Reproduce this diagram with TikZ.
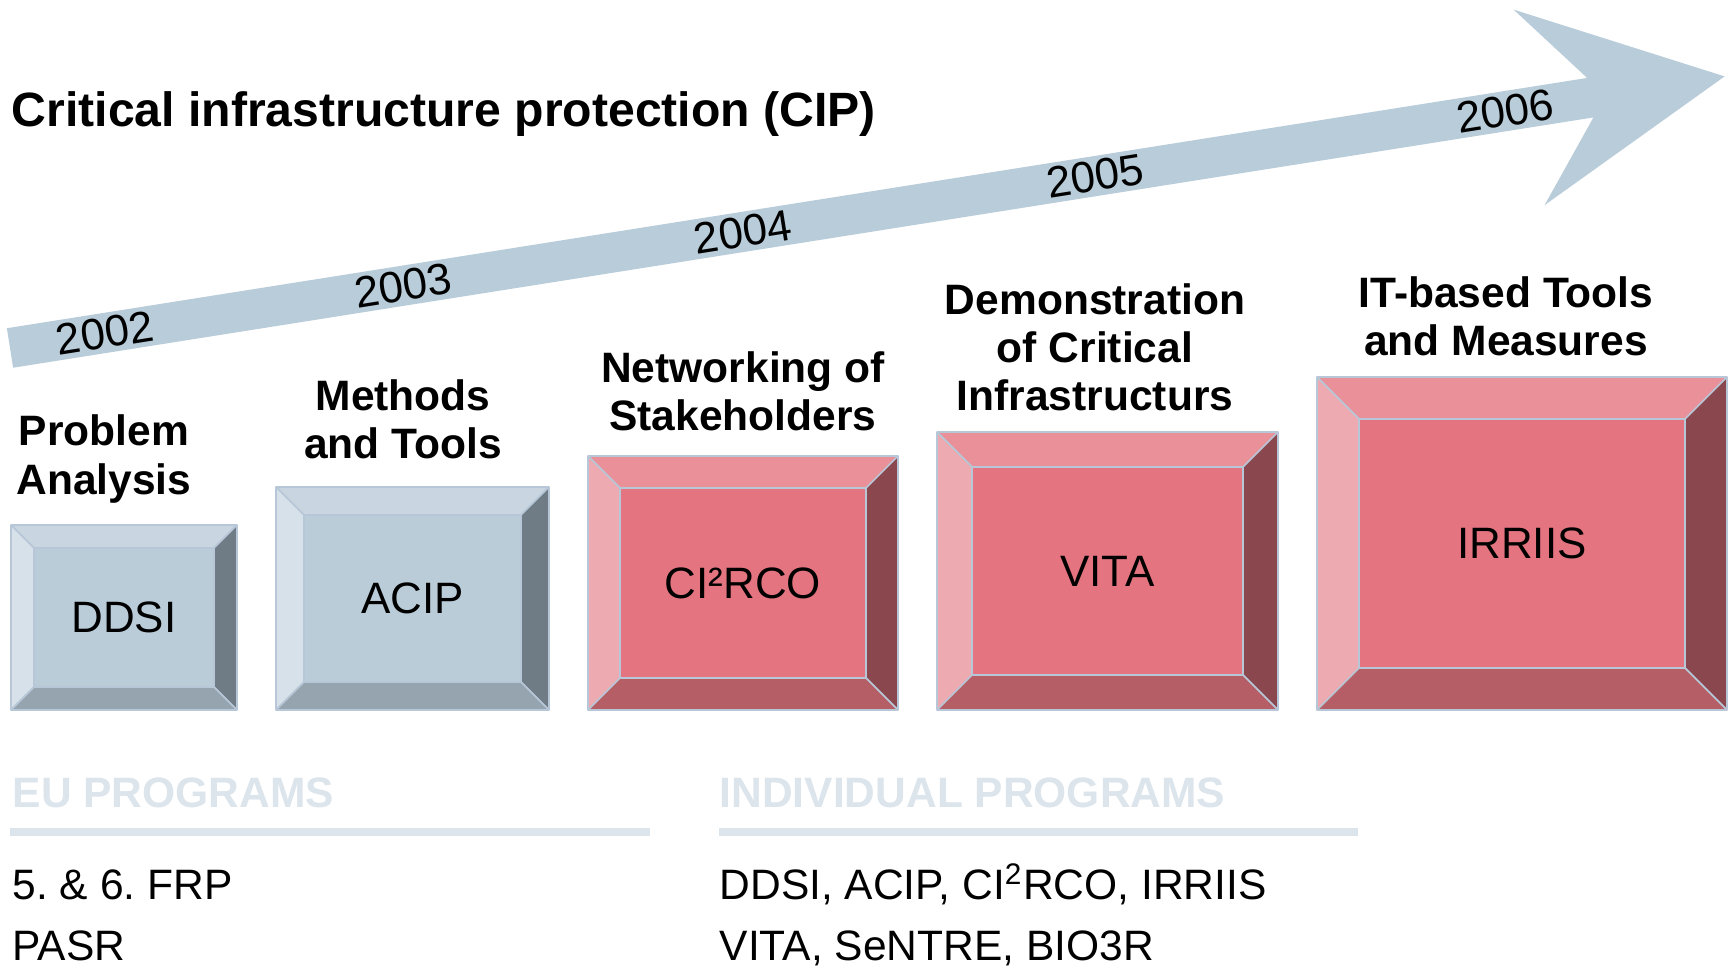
\documentclass[tikz,border=0pt]{standalone}
\usepackage{fontspec}
\setmainfont{Liberation Sans}
\definecolor{bltop}{HTML}{C9D6E1}
\definecolor{blleft}{HTML}{D6E1EA}
\definecolor{blface}{HTML}{BACCD8}
\definecolor{blbot}{HTML}{95A4AF}
\definecolor{blright}{HTML}{6F7B85}
\definecolor{rdtop}{HTML}{EA9098}
\definecolor{rdleft}{HTML}{EDAAB0}
\definecolor{rdface}{HTML}{E37480}
\definecolor{rdbot}{HTML}{B65E66}
\definecolor{rdright}{HTML}{8A474E}
\definecolor{shaft}{HTML}{B9CCD9}
\definecolor{edgecol}{HTML}{B7C7D7}
\definecolor{grpcol}{HTML}{DCE4EC}
\frenchspacing
\begin{document}
\begin{tikzpicture}[line join=round,
  hdr/.style={font=\fontsize{12.1}{13.7}\selectfont\bfseries, align=center, inner sep=0pt},
  lbl/.style={font=\fontsize{12.5}{15}\selectfont},
  yr/.style={font=\fontsize{12.5}{15}\selectfont, transform shape},
  prog/.style={font=\fontsize{12.1}{14}\selectfont, anchor=base west, inner sep=0pt},
  grp/.style={font=\fontsize{12.1}{14}\selectfont\bfseries, text=grpcol, anchor=base west, inner sep=0pt},
  edge/.style={draw=edgecol, line width=0.5pt},
  rule/.style={draw=grpcol, line width=0.08cm}]
\useasboundingbox (0,0) rectangle (17.32,9.68);
\node[anchor=west, inner sep=0pt, font=\fontsize{13.7}{16}\selectfont\bfseries] (title) at (0.11,8.54) {Critical infrastructure protection (CIP)};
% time arrow
\begin{scope}[shift={(0.10,6.20)}, rotate=9]
\fill[shaft] (0,-0.20) -- (16.00,-0.20) -- (15.38,-0.99) -- (17.36,0) -- (15.38,0.99) -- (16.00,0.20) -- (0,0.20) -- cycle;
\foreach \u/\yy in {0.96/2002, 3.98/2003, 7.42/2004, 10.99/2005, 15.14/2006}
  \node[yr] (y\yy) at (\u,0) {\yy};
\end{scope}
% bevelled boxes
\def\yb{2.58}
\foreach \nm/\xa/\xb/\yt/\bv/\pal/\txt in {ddsi/0.11/2.37/4.43/0.23/bl/DDSI, acip/2.76/5.49/4.81/0.28/bl/ACIP, circo/5.88/8.98/5.12/0.32/rd/CI²RCO, vita/9.37/12.78/5.36/0.35/rd/VITA, irriis/13.17/17.27/5.91/0.42/rd/IRRIIS}{
  \fill[\pal top] (\xa,\yt) -- (\xb,\yt) -- (\xb-\bv,\yt-\bv) -- (\xa+\bv,\yt-\bv) -- cycle;
  \fill[\pal left] (\xa,\yb) -- (\xa,\yt) -- (\xa+\bv,\yt-\bv) -- (\xa+\bv,\yb+\bv) -- cycle;
  \fill[\pal right] (\xb,\yb) -- (\xb,\yt) -- (\xb-\bv,\yt-\bv) -- (\xb-\bv,\yb+\bv) -- cycle;
  \fill[\pal bot] (\xa,\yb) -- (\xb,\yb) -- (\xb-\bv,\yb+\bv) -- (\xa+\bv,\yb+\bv) -- cycle;
  \fill[\pal face] (\xa+\bv,\yb+\bv) rectangle (\xb-\bv,\yt-\bv);
  \draw[edge] (\xa,\yb) rectangle (\xb,\yt) (\xa+\bv,\yb+\bv) rectangle (\xb-\bv,\yt-\bv)
    (\xa,\yb) -- (\xa+\bv,\yb+\bv) (\xa,\yt) -- (\xa+\bv,\yt-\bv)
    (\xb,\yt) -- (\xb-\bv,\yt-\bv) (\xb,\yb) -- (\xb-\bv,\yb+\bv);
  \node[lbl] (\nm) at ({(\xa+\xb)/2},{(\yb+\yt)/2}) {\txt};
}
\node[hdr] (pa) at (1.04,5.09) {Problem\\Analysis};
\node[hdr] (mt) at (4.03,5.49) {Methods\\and Tools};
\node[hdr] (ns) at (7.43,5.77) {Networking of\\Stakeholders};
\node[hdr] (dc) at (10.95,6.21) {Demonstration\\of Critical\\Infrastructurs};
\node[hdr] (it) at (15.06,6.52) {IT-based Tools\\and Measures};
% programs
\node[grp] (eu) at (0.12,1.60) {EU PROGRAMS};
\draw[rule] (0.10,1.36) -- (6.50,1.36);
\node[prog] (frp) at (0.12,0.68) {5. \& 6. FRP};
\node[prog] (pasr) at (0.12,0.07) {PASR};
\node[grp] (ind) at (7.19,1.60) {INDIVIDUAL PROGRAMS};
\draw[rule] (7.19,1.36) -- (13.58,1.36);
\node[prog] (lsta) at (7.19,0.68) {DDSI, ACIP, CI\textsuperscript{2}RCO, IRRIIS};
\node[prog] (lstb) at (7.19,0.07) {VITA, SeNTRE, BIO3R};
\end{tikzpicture}
\end{document}
